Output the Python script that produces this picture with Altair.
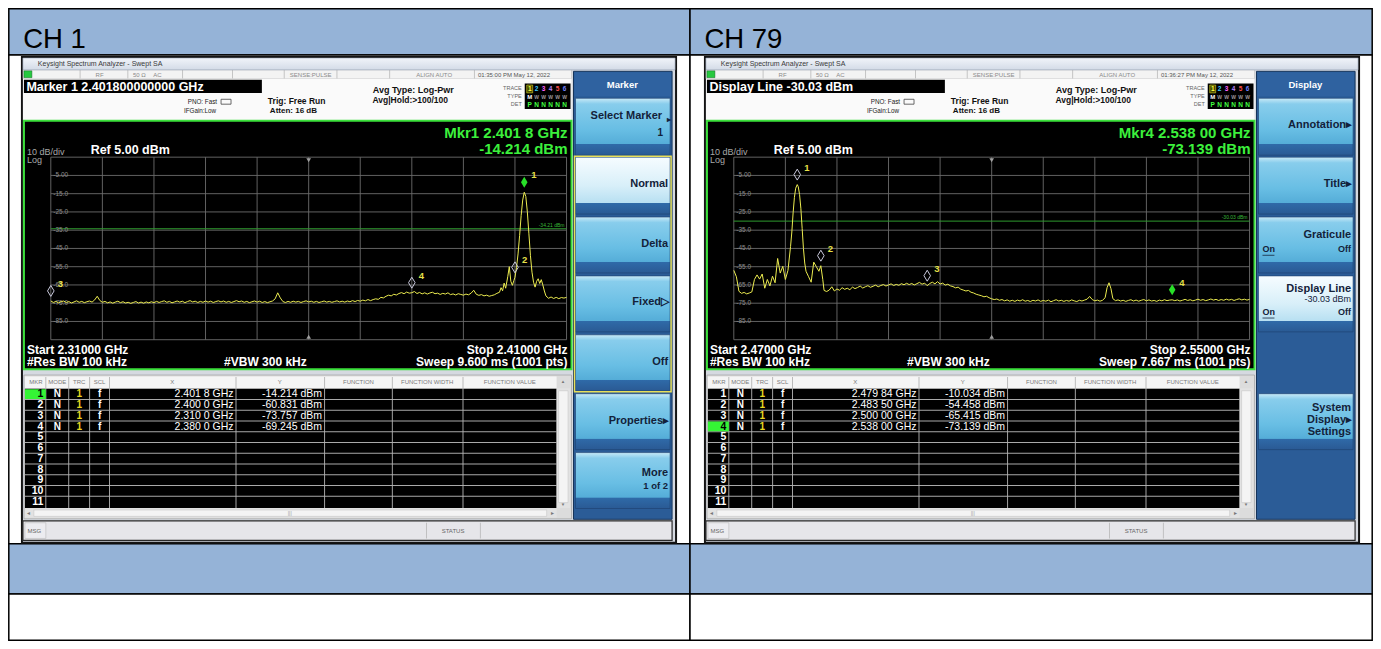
import altair as alt
import pandas as pd

FONT = "Liberation Sans"

# ---------------- chart values ----------------
HEADERS = ["CH 1", "CH 79"]

CH1_TRACE = [
    (2310.0, -73.76), (2310.5, -74.6), (2311.0, -74.0), (2311.5, -74.8), (2312.0, -74.2),
    (2312.5, -73.8), (2313.0, -74.6), (2313.5, -74.1), (2314.0, -74.9), (2314.5, -74.3),
    (2315.0, -73.7), (2315.5, -74.5), (2316.0, -74.0), (2316.5, -74.7), (2317.0, -74.2),
    (2317.5, -73.8), (2318.0, -74.4), (2318.5, -73.2), (2319.0, -71.2), (2319.5, -73.5),
    (2320.0, -74.5), (2320.5, -74.0), (2321.0, -74.8), (2321.5, -74.3), (2322.0, -75.0),
    (2322.5, -74.4), (2323.0, -73.9), (2323.5, -74.7), (2324.0, -74.2), (2324.5, -74.9),
    (2325.0, -74.5), (2325.5, -75.1), (2326.0, -74.6), (2326.5, -74.1), (2327.0, -74.9),
    (2327.5, -74.4), (2328.0, -75.0), (2328.5, -74.3), (2329.0, -74.8), (2329.5, -74.2),
    (2330.0, -74.7), (2330.5, -74.0), (2331.0, -74.6), (2331.5, -74.1), (2332.0, -73.7),
    (2332.5, -74.5), (2333.0, -74.0), (2333.5, -74.8), (2334.0, -74.3), (2334.5, -73.8),
    (2335.0, -74.4), (2335.5, -73.9), (2336.0, -74.7), (2336.5, -74.1), (2337.0, -73.6),
    (2337.5, -74.3), (2338.0, -73.9), (2338.5, -74.6), (2339.0, -74.0), (2339.5, -74.5),
    (2340.0, -73.8), (2340.5, -74.4), (2341.0, -73.9), (2341.5, -74.6), (2342.0, -74.1),
    (2342.5, -73.7), (2343.0, -74.3), (2343.5, -73.8), (2344.0, -74.5), (2344.5, -74.0),
    (2345.0, -74.6), (2345.5, -74.1), (2346.0, -73.6), (2346.5, -74.2), (2347.0, -73.8),
    (2347.5, -74.5), (2348.0, -74.0), (2348.5, -74.7), (2349.0, -74.2), (2349.5, -73.8),
    (2350.0, -74.4), (2350.5, -73.9), (2351.0, -74.6), (2351.5, -74.1), (2352.0, -74.7),
    (2352.5, -74.2), (2353.0, -73.8), (2353.5, -72.6), (2354.0, -69.3), (2354.5, -72.1),
    (2355.0, -74.1), (2355.5, -74.6), (2356.0, -74.0), (2356.5, -74.5), (2357.0, -73.9),
    (2357.5, -74.4), (2358.0, -74.0), (2358.5, -74.6), (2359.0, -74.1), (2359.5, -73.7),
    (2360.0, -74.3), (2360.5, -73.9), (2361.0, -74.5), (2361.5, -74.0), (2362.0, -74.6),
    (2362.5, -74.2), (2363.0, -73.8), (2363.5, -74.4), (2364.0, -74.0), (2364.5, -74.5),
    (2365.0, -74.1), (2365.5, -73.7), (2366.0, -74.3), (2366.5, -73.9), (2367.0, -74.4),
    (2367.5, -73.8), (2368.0, -74.2), (2368.5, -73.6), (2369.0, -74.1), (2369.5, -73.5),
    (2370.0, -73.9), (2370.5, -73.3), (2371.0, -73.7), (2371.5, -73.0), (2372.0, -73.6),
    (2372.5, -73.0), (2373.0, -72.6), (2373.5, -72.9), (2374.0, -71.8), (2374.5, -72.1),
    (2375.0, -71.2), (2375.5, -70.6), (2376.0, -71.0), (2376.5, -70.1), (2377.0, -70.5),
    (2377.5, -69.7), (2378.0, -69.2), (2378.5, -69.8), (2379.0, -68.9), (2379.5, -69.5),
    (2380.0, -69.25), (2380.5, -68.6), (2381.0, -69.7), (2381.5, -69.1), (2382.0, -69.9),
    (2382.5, -69.3), (2383.0, -70.0), (2383.5, -69.4), (2384.0, -69.0), (2384.5, -69.8),
    (2385.0, -69.5), (2385.5, -70.2), (2386.0, -69.6), (2386.5, -70.0), (2387.0, -69.3),
    (2387.5, -70.3), (2388.0, -69.9), (2388.5, -70.5), (2389.0, -69.8), (2389.5, -70.2),
    (2390.0, -70.6), (2390.5, -70.0), (2391.0, -70.4), (2391.5, -69.5), (2392.0, -67.9),
    (2392.5, -70.1), (2393.0, -70.7), (2393.5, -70.3), (2394.0, -71.0), (2394.5, -70.6),
    (2395.0, -71.2), (2395.5, -70.8), (2396.0, -70.4), (2396.5, -69.6), (2397.0, -69.0),
    (2397.3, -66.5), (2397.6, -68.2), (2397.9, -64.0), (2398.2, -66.8), (2398.6, -60.5),
    (2398.9, -55.0), (2399.2, -63.0), (2399.5, -65.2), (2399.8, -62.5), (2400.0, -60.83),
    (2400.3, -55.5), (2400.6, -48.0), (2400.9, -38.0), (2401.2, -27.0), (2401.5, -18.5),
    (2401.8, -14.21), (2402.1, -16.5), (2402.4, -25.0), (2402.7, -37.0), (2403.0, -49.0),
    (2403.3, -58.0), (2403.6, -63.5), (2403.9, -66.2), (2404.2, -63.0), (2404.5, -61.6),
    (2404.8, -64.2), (2405.1, -62.1), (2405.4, -65.0), (2405.7, -68.3), (2406.0, -71.0),
    (2406.5, -72.3), (2407.0, -71.6), (2407.5, -72.4), (2408.0, -71.8), (2408.5, -72.5),
    (2409.0, -71.9), (2409.5, -72.2), (2410.0, -71.8),
]

CH79_TRACE = [
    (2470.0, -57.0), (2470.4, -60.5), (2470.8, -68.5), (2471.2, -69.6), (2471.6, -69.1),
    (2472.0, -69.9), (2472.4, -69.4), (2472.8, -68.8), (2473.2, -62.0), (2473.6, -59.5),
    (2474.0, -61.8), (2474.4, -59.0), (2474.8, -66.8), (2475.2, -62.0), (2475.6, -65.5),
    (2476.0, -60.2), (2476.4, -63.8), (2476.8, -50.5), (2477.2, -58.5), (2477.6, -54.8),
    (2478.0, -62.0), (2478.4, -57.0), (2478.8, -44.0), (2479.0, -36.0), (2479.2, -25.5),
    (2479.4, -17.0), (2479.6, -12.0), (2479.84, -10.03), (2480.0, -11.2), (2480.2, -15.5),
    (2480.4, -23.0), (2480.6, -34.0), (2480.8, -45.0), (2481.0, -53.0), (2481.2, -57.5),
    (2481.6, -60.5), (2482.0, -63.5), (2482.4, -52.5), (2482.8, -55.0), (2483.2, -57.5),
    (2483.5, -54.46), (2483.8, -62.0), (2484.0, -68.0), (2484.4, -68.6), (2484.8, -67.8),
    (2485.2, -66.0), (2485.6, -68.3), (2486.0, -67.2), (2486.4, -67.9), (2486.8, -66.5),
    (2487.2, -67.4), (2487.6, -66.8), (2488.0, -67.6), (2488.4, -66.2), (2488.8, -67.0),
    (2489.2, -66.4), (2489.6, -65.6), (2490.0, -66.7), (2490.4, -66.0), (2490.8, -65.4),
    (2491.2, -66.3), (2491.6, -65.7), (2492.0, -65.1), (2492.4, -66.0), (2492.8, -65.3),
    (2493.2, -64.8), (2493.6, -65.6), (2494.0, -65.0), (2494.4, -64.4), (2494.8, -65.3),
    (2495.2, -64.7), (2495.6, -65.2), (2496.0, -64.3), (2496.4, -64.9), (2496.8, -64.1),
    (2497.2, -64.8), (2497.6, -64.2), (2498.0, -65.0), (2498.4, -64.3), (2498.8, -63.6),
    (2499.2, -64.6), (2499.6, -64.0), (2500.0, -65.42), (2500.4, -64.2), (2500.8, -63.5),
    (2501.2, -64.4), (2501.6, -63.2), (2502.0, -64.5), (2502.4, -64.0), (2502.8, -65.1),
    (2503.2, -64.6), (2503.6, -65.5), (2504.0, -65.9), (2504.4, -66.6), (2504.8, -66.2),
    (2505.2, -67.3), (2505.6, -67.8), (2506.0, -68.3), (2506.4, -68.0), (2506.8, -69.0),
    (2507.2, -69.4), (2507.6, -70.1), (2508.0, -70.5), (2508.4, -70.9), (2508.8, -71.5),
    (2509.2, -71.2), (2509.6, -72.0), (2510.0, -72.6), (2510.4, -73.0), (2510.8, -72.7),
    (2511.2, -73.4), (2511.6, -73.0), (2512.0, -73.7), (2512.4, -73.2), (2512.8, -73.9),
    (2513.2, -73.4), (2513.6, -74.0), (2514.0, -73.3), (2514.4, -73.8), (2514.8, -73.1),
    (2515.2, -73.9), (2515.6, -73.5), (2516.0, -74.1), (2516.4, -73.4), (2516.8, -73.8),
    (2517.2, -73.2), (2517.6, -74.0), (2518.0, -73.5), (2518.4, -73.9), (2518.8, -73.3),
    (2519.2, -74.2), (2519.6, -73.6), (2520.0, -73.1), (2520.4, -73.8), (2520.8, -73.4),
    (2521.2, -74.0), (2521.6, -73.5), (2522.0, -73.9), (2522.4, -73.2), (2522.8, -73.7),
    (2523.2, -74.1), (2523.6, -73.4), (2524.0, -73.8), (2524.4, -73.3), (2524.8, -72.8),
    (2525.2, -71.3), (2525.6, -73.0), (2526.0, -73.7), (2526.4, -73.3), (2526.8, -73.9),
    (2527.2, -73.4), (2527.6, -72.0), (2527.9, -66.5), (2528.2, -63.8), (2528.5, -67.0),
    (2528.8, -72.5), (2529.2, -73.6), (2529.6, -73.2), (2530.0, -73.8), (2530.4, -73.4),
    (2530.8, -74.0), (2531.2, -73.5), (2531.6, -73.1), (2532.0, -73.8), (2532.4, -73.3),
    (2532.8, -73.9), (2533.2, -73.4), (2533.6, -73.0), (2534.0, -73.7), (2534.4, -73.2),
    (2534.8, -73.8), (2535.2, -73.5), (2535.6, -74.0), (2536.0, -73.3), (2536.4, -73.7),
    (2536.8, -73.1), (2537.2, -73.6), (2537.6, -73.3), (2538.0, -73.14), (2538.4, -73.6),
    (2538.8, -73.2), (2539.2, -73.8), (2539.6, -73.4), (2540.0, -72.9), (2540.4, -73.5),
    (2540.8, -73.1), (2541.2, -73.7), (2541.6, -73.3), (2542.0, -72.8), (2542.4, -73.4),
    (2542.8, -73.0), (2543.2, -73.6), (2543.6, -73.2), (2544.0, -72.7), (2544.4, -73.3),
    (2544.8, -72.9), (2545.2, -73.5), (2545.6, -73.0), (2546.0, -73.4), (2546.4, -72.8),
    (2546.8, -73.3), (2547.2, -72.9), (2547.6, -73.5), (2548.0, -73.0), (2548.4, -72.6),
    (2548.8, -73.2), (2549.2, -72.8), (2549.6, -73.3), (2550.0, -72.9),
]
TRACES = [CH1_TRACE, CH79_TRACE]

SPANS = [(2310.0, 2410.0), (2470.0, 2550.0)]
GRID_F = [[2310, 2320, 2330, 2340, 2350, 2360, 2370, 2380, 2390, 2400, 2410],
          [2470, 2478, 2486, 2494, 2502, 2510, 2518, 2526, 2534, 2542, 2550]]
REF_DB, BOTTOM_DB = 5.0, -95.0
GRID_DB = [5, -5, -15, -25, -35, -45, -55, -65, -75, -85, -95]
LABEL_DB = [-5, -15, -25, -35, -45, -55, -65, -75, -85]
LABEL_TXT = ["-5.00", "-15.0", "-25.0", "-35.0", "-45.0", "-55.0", "-65.0", "-75.0", "-85.0"]
DISPLAY_LINE = [-34.21, -30.03]
DISPLAY_LINE_TXT = ["-34.21 dBm", "-30.03 dBm"]

MKR_F = [[2401.8, 2400.0, 2310.0, 2380.0], [2479.84, 2483.5, 2500.0, 2538.0]]
MKR_DB = [[-14.214, -60.831, -73.757, -69.245], [-10.034, -54.458, -65.415, -73.139]]
MKR_X_TXT = [["2.401 8 GHz", "2.400 0 GHz", "2.310 0 GHz", "2.380 0 GHz"],
             ["2.479 84 GHz", "2.483 50 GHz", "2.500 00 GHz", "2.538 00 GHz"]]
MKR_Y_TXT = [["-14.214 dBm", "-60.831 dBm", "-73.757 dBm", "-69.245 dBm"],
             ["-10.034 dBm", "-54.458 dBm", "-65.415 dBm", "-73.139 dBm"]]
ACTIVE_MKR = [1, 4]
MKR_READOUT = [("Mkr1 2.401 8 GHz", "-14.214 dBm"), ("Mkr4 2.538 00 GHz", "-73.139 dBm")]
BOX_TXT = ["Marker 1 2.401800000000 GHz", "Display Line -30.03 dBm"]
TIMES = ["01:35:00 PM May 12, 2022", "01:36:27 PM May 12, 2022"]
START_TXT = ["Start 2.31000 GHz", "Start 2.47000 GHz"]
STOP_TXT = ["Stop 2.41000 GHz", "Stop 2.55000 GHz"]
SWEEP_TXT = ["Sweep  9.600 ms (1001 pts)", "Sweep  7.667 ms (1001 pts)"]
MENU_TITLE = ["Marker", "Display"]
TABLE_HEAD = ["MKR", "MODE", "TRC", "SCL", "X", "Y", "FUNCTION", "FUNCTION WIDTH", "FUNCTION VALUE"]

# softkey labels: (text, y, size, weight, align, x)
MENUS = [
    [
        [("Select Marker", 113, 11, "bold", "right", 662), ("\u25b8", 117, 8, "bold", "right", 671),
         ("1", 130, 10, "bold", "right", 663)],
        [("Normal", 182, 11, "bold", "right", 668)],
        [("Delta", 243, 11, "bold", "right", 668)],
        [("Fixed\u25b7", 303, 11, "bold", "right", 669)],
        [("Off", 364, 11, "bold", "right", 668)],
        [("Properties\u25b8", 424, 11, "bold", "right", 669)],
        [("More", 477, 11, "bold", "right", 668), ("1 of 2", 490, 9.5, "bold", "right", 668)],
    ],
    [
        [("Annotation\u25b8", 122, 11, "bold", "right", 669)],
        [("Title\u25b8", 182, 11, "bold", "right", 669)],
        [("Graticule", 234, 11, "bold", "right", 668), ("On", 249, 9, "bold", "left", 579),
         ("Off", 249, 9, "bold", "right", 668)],
        [("Display Line", 289, 11, "bold", "right", 668), ("-30.03 dBm", 300, 9, "normal", "right", 668),
         ("On", 313, 9, "bold", "left", 579), ("Off", 313, 9, "bold", "right", 668)],
        None,
        [("System", 411, 11, "bold", "right", 668), ("Display\u25b8", 423, 11, "bold", "right", 669),
         ("Settings", 435, 11, "bold", "right", 668)],
        None,
    ],
]
SELECTED_KEY = [1, 3]
UNDERLINED = [[], [(249,), (313,)]]

# ---------------- layout helpers ----------------
W, H = 1365, 633
SX = W / 1371.0
SY = H / 645.0


def X(x):
    return round((x - 5.0) * SX, 2)


def Y(y):
    return round((y - 3.0) * SY, 2)


base, overlay = [], []
grad = {"title": [], "btn": [], "sel": []}
texts = {}


def R(x1, y1, x2, y2, fill, stroke="transparent", sw=0.0, to=None):
    (base if to is None else to).append(
        {"x": X(x1), "x2": X(x2), "y": Y(y1), "y2": Y(y2), "f": fill, "s": stroke, "w": sw})


def G(kind, x1, y1, x2, y2):
    grad[kind].append({"x": X(x1), "x2": X(x2), "y": Y(y1), "y2": Y(y2)})


def T(x, y, t, size, color, align="left", weight="normal"):
    texts.setdefault((align, weight), []).append(
        {"x": X(x), "y": Y(y), "t": t, "s": size, "c": color})


# outer document table
for i, (cx0, cx1) in enumerate([(5.8, 690), (690, 1375.2)]):
    R(cx0, 3.8, cx1, 51, "#95b3d7", "#000000", 1.5)
    R(cx0, 51, cx1, 549, "#ffffff", "#000000", 1.5)
    R(cx0, 549, cx1, 600, "#95b3d7", "#000000", 1.5)
    R(cx0, 600, cx1, 647.2, "#ffffff", "#000000", 1.5)
    T(cx0 + 14.5, 36, HEADERS[i], 27.5, "#000000")

ROW_H = 10.95
COLS = [22, 43, 66, 87, 107, 234, 323, 391, 462, 556]
HEAD_X = [33, 54.5, 76.5, 97, 170, 278, 357, 426, 509]

for p, ox in enumerate([0, 686]):
    def Rp(x1, y1, x2, y2, *a, **k):
        R(x1 + ox, y1, x2 + ox, y2, *a, **k)

    def Tp(x, y, *a, **k):
        T(x + ox, y, *a, **k)

    # screenshot frame and window chrome
    Rp(19, 53, 676, 548, "#d5d9e0", "#141414", 2)
    G("title", 20 + ox, 54, 675 + ox, 66)
    Rp(23, 56, 31, 64, "#c43b2f")
    Rp(23, 59, 31, 60.5, "#ffffff")
    Tp(35, 60.5, "Keysight Spectrum Analyzer - Swept SA", 7, "#3a3a3a")
    Rp(617, 56, 634, 64.5, "#c7d1de", "#8090a8", 0.5)
    Rp(636, 56, 652, 64.5, "#c7d1de", "#8090a8", 0.5)
    Rp(654, 56, 671, 64.5, "#d9534f", "#8a3030", 0.5)

    # status row
    Rp(20, 66, 571, 75, "#f3f3f3", "#b8b8b8", 0.5)
    for d in [77, 125, 180, 230, 282, 335, 388, 473]:
        Rp(d, 66, d + 0.8, 75, "#b8b8b8")
    Rp(21, 67, 29, 74, "#27c93f", "#116622", 0.5)
    Tp(97, 71, "RF", 6, "#8a8a8a", "center")
    Tp(137, 71, "50 \u03a9", 6, "#8a8a8a", "center")
    Tp(155, 71, "AC", 6, "#8a8a8a", "center")
    Tp(309, 71, "SENSE:PULSE", 6, "#8a8a8a", "center")
    Tp(433, 71, "ALIGN AUTO", 6, "#8a8a8a", "center")
    Tp(477, 71, TIMES[p], 6, "#555555")

    # settings area
    Rp(20, 75, 571, 117, "#fafafa")
    Rp(21, 76, 260, 89.5, "#000000")
    Tp(23.5, 83, BOX_TXT[p], 12.5, "#ffffff", "left", "bold")
    Tp(215, 98.5, "PNO: Fast", 6.3, "#222222", "right")
    Tp(214, 108, "IFGain:Low", 6.3, "#222222", "right")
    Rp(219, 96, 229, 101, "transparent", "#444444", 0.8)
    Tp(266, 98, "Trig: Free Run", 8.5, "#111111", "left", "bold")
    Tp(268, 108, "Atten: 16 dB", 8, "#111111", "left", "bold")
    Tp(412, 87, "Avg Type: Log-Pwr", 9, "#111111", "center", "bold")
    Tp(409, 97, "Avg|Hold:>100/100", 8.5, "#111111", "center", "bold")
    Tp(521, 85, "TRACE", 5.5, "#666666", "right")
    Tp(521, 93, "TYPE", 5.5, "#666666", "right")
    Tp(521, 101, "DET", 5.5, "#666666", "right")
    Rp(524, 80, 570, 106, "#000000")
    Rp(526, 81.5, 532, 89.5, "#4a4a00", "#d8d820", 0.6)
    for k, (dx, col) in enumerate(zip([529, 536, 543, 550, 557, 564],
                                      ["#ffff40", "#3fc8ff", "#ff60ff", "#b884ff", "#ff5050", "#7080ff"])):
        Tp(dx, 85.5, str(k + 1), 6.5, col, "center", "bold")
        Tp(dx, 93.5, "M" if k == 0 else "W", 6 if k == 0 else 5, "#ffffff" if k == 0 else "#9a9a9a", "center", "bold")
        Tp(dx, 101.5, "P" if k == 0 else "N", 6.5, "#40ff40", "center", "bold")

    # plot window
    Rp(21, 118, 571, 371, "#000000", "#3be03b", 2)
    Tp(567, 130, MKR_READOUT[p][0], 15, "#3cf03c", "right", "bold")
    Tp(567, 147, MKR_READOUT[p][1], 15, "#3cf03c", "right", "bold")
    Tp(24, 150, "10 dB/div", 9, "#a8a8a8")
    Tp(24, 157.5, "Log", 9, "#a8a8a8")
    Tp(88, 148, "Ref 5.00 dBm", 12.5, "#ffffff", "left", "bold")
    Tp(24, 351, START_TXT[p], 12, "#ffffff", "left", "bold")
    Tp(567, 351, STOP_TXT[p], 12, "#ffffff", "right", "bold")
    Tp(24, 364, "#Res BW 100 kHz", 12, "#ffffff", "left", "bold")
    Tp(222, 364, "#VBW 300 kHz", 12, "#ffffff", "left", "bold")
    Tp(567, 364, SWEEP_TXT[p], 12, "#ffffff", "right", "bold")

    # marker table
    Rp(21, 377, 571, 523.5, "#dcdcdc", "#8a8a8a", 0.5)
    Rp(22, 378.5, 556, 390.5, "#f5f5f5")
    Rp(22, 391, 556, 512.5, "#000000")
    for i in range(1, 11):
        yy = 391 + i * ROW_H
        Rp(22, yy - 0.45, 556, yy + 0.45, "#a9a9a9")
    for c in COLS[1:-1]:
        Rp(c - 0.45, 379, c + 0.45, 512.5, "#b4b4b4")
    act = ACTIVE_MKR[p]
    Rp(22, 391 + (act - 1) * ROW_H + 0.5, 43, 391 + act * ROW_H - 0.5, "#35f535")
    for hx, ht in zip(HEAD_X, TABLE_HEAD):
        Tp(hx, 384.5, ht, 6, "#7a7a7a", "center")
    for i in range(11):
        yc = 391 + i * ROW_H + ROW_H / 2 + 0.3
        Tp(40.5, yc, str(i + 1), 10.5, "#000000" if i + 1 == act else "#ffffff", "right", "bold")
        if i < 4:
            Tp(54.5, yc, "N", 10, "#ffffff", "center", "bold")
            Tp(76.5, yc, "1", 10, "#e8d820", "center", "bold")
            Tp(97, yc, "f", 10, "#ffffff", "center", "bold")
            Tp(231.5, yc, MKR_X_TXT[p][i], 10.5, "#ffffff", "right")
            Tp(320.5, yc, MKR_Y_TXT[p][i], 10.5, "#ffffff", "right")
    Rp(556, 390.5, 569.5, 512.5, "#e2e2e2")
    Rp(558, 393, 567.5, 507, "#f4f4f4", "#c0c0c0", 0.5)
    Tp(562.5, 384.5, "\u25b2", 4.5, "#777777", "center")
    Tp(562.5, 509.5, "\u25bc", 4.5, "#777777", "center")
    Rp(22, 513, 556, 522.5, "#e2e2e2")
    Rp(31, 514.5, 546, 521, "#f4f4f4", "#c0c0c0", 0.5)
    Tp(26, 518, "\u25c2", 6, "#777777", "center")
    Tp(552, 518, "\u25b8", 6, "#777777", "center")
    Tp(288, 518, "|||", 5, "#999999", "center")

    # status bar
    Rp(20, 525.5, 672, 545.5, "#e6e6ea", "#2a2a2a", 1.2)
    Rp(22, 527.5, 43, 543.5, "#ececf0", "#b0b0b0", 0.5)
    Rp(425, 527.5, 425.7, 543.5, "#b0b0b0")
    Rp(479, 527.5, 479.7, 543.5, "#b0b0b0")
    Tp(24.5, 535.5, "MSG", 6, "#666666")
    Tp(452, 535.5, "STATUS", 6, "#666666", "center")

    # soft-key menu
    Rp(573, 67.5, 672, 524, "#2b5c97", "#16345a", 1)
    Rp(574, 68.5, 671, 93, "#2f62a0")
    Tp(622, 81, MENU_TITLE[p], 9.5, "#ffffff", "center", "bold")
    slots = [(95, 153), (155, 213), (216, 273), (276, 333), (336, 393), (396, 453), (456, 513)]
    for s, (t0, t1) in enumerate(slots):
        lines = MENUS[p][s]
        if lines is None:
            continue
        G("sel" if s == SELECTED_KEY[p] else "btn", 575 + ox, t0, 670 + ox, t1)
        for (txt, yy, sz, wt, al, xx) in lines:
            Tp(xx, yy, txt, sz, "#13223a", al, wt)
    for (yy,) in UNDERLINED[p]:
        R(579 + ox, yy + 5.5, 591 + ox, yy + 6.3, "#13223a", to=overlay)
    if p == 0:
        R(574 + ox, 154, 671 + ox, 394, "transparent", "#e9df5a", 1.5, to=overlay)


# ---------------- layer builders ----------------
PX = dict(scale=None, axis=None)


def rect_layer(lst):
    return alt.Chart(pd.DataFrame(lst)).mark_rect().encode(
        x=alt.X("x:Q", **PX), x2="x2:Q",
        y=alt.Y("y:Q", **PX), y2="y2:Q",
        fill=alt.Fill("f:N", scale=None, legend=None),
        stroke=alt.Stroke("s:N", scale=None, legend=None),
        strokeWidth=alt.StrokeWidth("w:Q", scale=None, legend=None),
    )


def grad_layer(lst, stops, stroke):
    g = alt.LinearGradient(gradient="linear", x1=0, x2=0, y1=0, y2=1,
                           stops=[alt.GradientStop(offset=o, color=c) for o, c in stops])
    return alt.Chart(pd.DataFrame(lst)).mark_rect(fill=g, stroke=stroke, strokeWidth=0.6).encode(
        x=alt.X("x:Q", **PX), x2="x2:Q", y=alt.Y("y:Q", **PX), y2="y2:Q")


def text_layer(lst, align, weight):
    return alt.Chart(pd.DataFrame(lst)).mark_text(
        align=align, baseline="middle", font=FONT, fontWeight=weight).encode(
        x=alt.X("x:Q", **PX), y=alt.Y("y:Q", **PX), text="t:N",
        color=alt.Color("c:N", scale=None, legend=None),
        size=alt.Size("s:Q", scale=None, legend=None))


DIAMOND = "M0,-1L0.6,0L0,1L-0.6,0Z"


def spectrum_layers(p, ox):
    start, stop = SPANS[p]
    xs = alt.Scale(domain=[start, stop], range=[X(48 + ox), X(566 + ox)], nice=False, zero=False)
    ys = alt.Scale(domain=[BOTTOM_DB, REF_DB], range=[Y(341), Y(155)], nice=False, zero=False)
    fx = lambda f: alt.X(f, scale=xs, axis=None)
    fy = lambda f: alt.Y(f, scale=ys, axis=None)
    out = []
    vg = pd.DataFrame({"f": GRID_F[p], "top": REF_DB, "bot": BOTTOM_DB})
    out.append(alt.Chart(vg).mark_rule(color="#6c6c6c", strokeWidth=0.9).encode(
        x=fx("f:Q"), y=fy("top:Q"), y2="bot:Q"))
    hg = pd.DataFrame({"db": GRID_DB, "a": start, "b": stop})
    out.append(alt.Chart(hg).mark_rule(color="#6c6c6c", strokeWidth=0.9).encode(
        x=fx("a:Q"), x2="b:Q", y=fy("db:Q")))
    ctr = GRID_F[p][5]
    out.append(alt.Chart(pd.DataFrame({"f": [ctr], "db": [REF_DB]})).mark_point(
        shape="triangle-down", size=22, filled=True, color="#a0a0a0", opacity=1, yOffset=3).encode(
        x=fx("f:Q"), y=fy("db:Q")))
    out.append(alt.Chart(pd.DataFrame({"f": [ctr], "db": [BOTTOM_DB]})).mark_point(
        shape="triangle-up", size=22, filled=True, color="#a0a0a0", opacity=1, yOffset=-3).encode(
        x=fx("f:Q"), y=fy("db:Q")))
    dl = pd.DataFrame({"db": [DISPLAY_LINE[p]], "a": [start], "b": [stop], "t": [DISPLAY_LINE_TXT[p]]})
    out.append(alt.Chart(dl).mark_rule(color="#2f9a2f", strokeWidth=1).encode(
        x=fx("a:Q"), x2="b:Q", y=fy("db:Q")))
    out.append(alt.Chart(dl).mark_text(align="right", baseline="middle", dx=-2, dy=-4, fontSize=5,
                                       font=FONT, color="#3ab83a").encode(
        x=fx("b:Q"), y=fy("db:Q"), text="t:N"))
    lab = pd.DataFrame({"db": LABEL_DB, "a": start, "t": LABEL_TXT})
    out.append(alt.Chart(lab).mark_text(align="left", baseline="middle", dx=2.5, fontSize=6.5,
                                        font=FONT, color="#8c8c8c").encode(
        x=fx("a:Q"), y=fy("db:Q"), text="t:N"))
    tr = pd.DataFrame(TRACES[p], columns=["f", "d"])
    out.append(alt.Chart(tr).mark_line(color="#ecec50", strokeWidth=1, interpolate="linear").encode(
        x=fx("f:Q"), y=fy("d:Q")))
    mk = pd.DataFrame({"f": MKR_F[p], "d": MKR_DB[p], "n": ["1", "2", "3", "4"]})
    act = str(ACTIVE_MKR[p])
    out.append(alt.Chart(mk[mk.n != act]).mark_point(
        shape=DIAMOND, size=120, filled=False, color="#c9c9dc", strokeWidth=1, opacity=1, yOffset=-10).encode(
        x=fx("f:Q"), y=fy("d:Q")))
    out.append(alt.Chart(mk[mk.n == act]).mark_point(
        shape=DIAMOND, size=120, filled=True, color="#28e028", opacity=1, yOffset=-10).encode(
        x=fx("f:Q"), y=fy("d:Q")))
    out.append(alt.Chart(mk).mark_text(align="left", baseline="middle", dx=7, dy=-17, fontSize=9.5,
                                       fontWeight="bold", font=FONT, color="#e6e04a").encode(
        x=fx("f:Q"), y=fy("d:Q"), text="n:N"))
    return out


BTN_STOPS = [(0, "#c8e9f7"), (0.1, "#88cdec"), (0.55, "#68bee4"), (0.8, "#55add8"),
             (0.81, "#2f6aa8"), (1, "#2a5a94")]
SEL_STOPS = [(0, "#f6fcff"), (0.5, "#d8eff9"), (0.8, "#b8e0f2"), (0.81, "#2f6aa8"), (1, "#2a5a94")]
TITLE_STOPS = [(0, "#f1f4f9"), (1, "#d3dbe7")]

layers = [rect_layer(base),
          grad_layer(grad["title"], TITLE_STOPS, "#9aa6b8"),
          grad_layer(grad["btn"], BTN_STOPS, "#1d3f6e"),
          grad_layer(grad["sel"], SEL_STOPS, "#1d3f6e"),
          rect_layer(overlay)]
layers += spectrum_layers(0, 0)
layers += spectrum_layers(1, 686)
for (al, wt), lst in texts.items():
    layers.append(text_layer(lst, al, wt))

chart = alt.layer(*layers).resolve_scale(x="independent", y="independent").properties(
    width=W, height=H, padding=0, autosize=alt.AutoSizeParams(type="none"), background="#ffffff"
).configure_view(stroke=None)

chart.save("out.html", embed_options={"renderer": "svg", "actions": False})
